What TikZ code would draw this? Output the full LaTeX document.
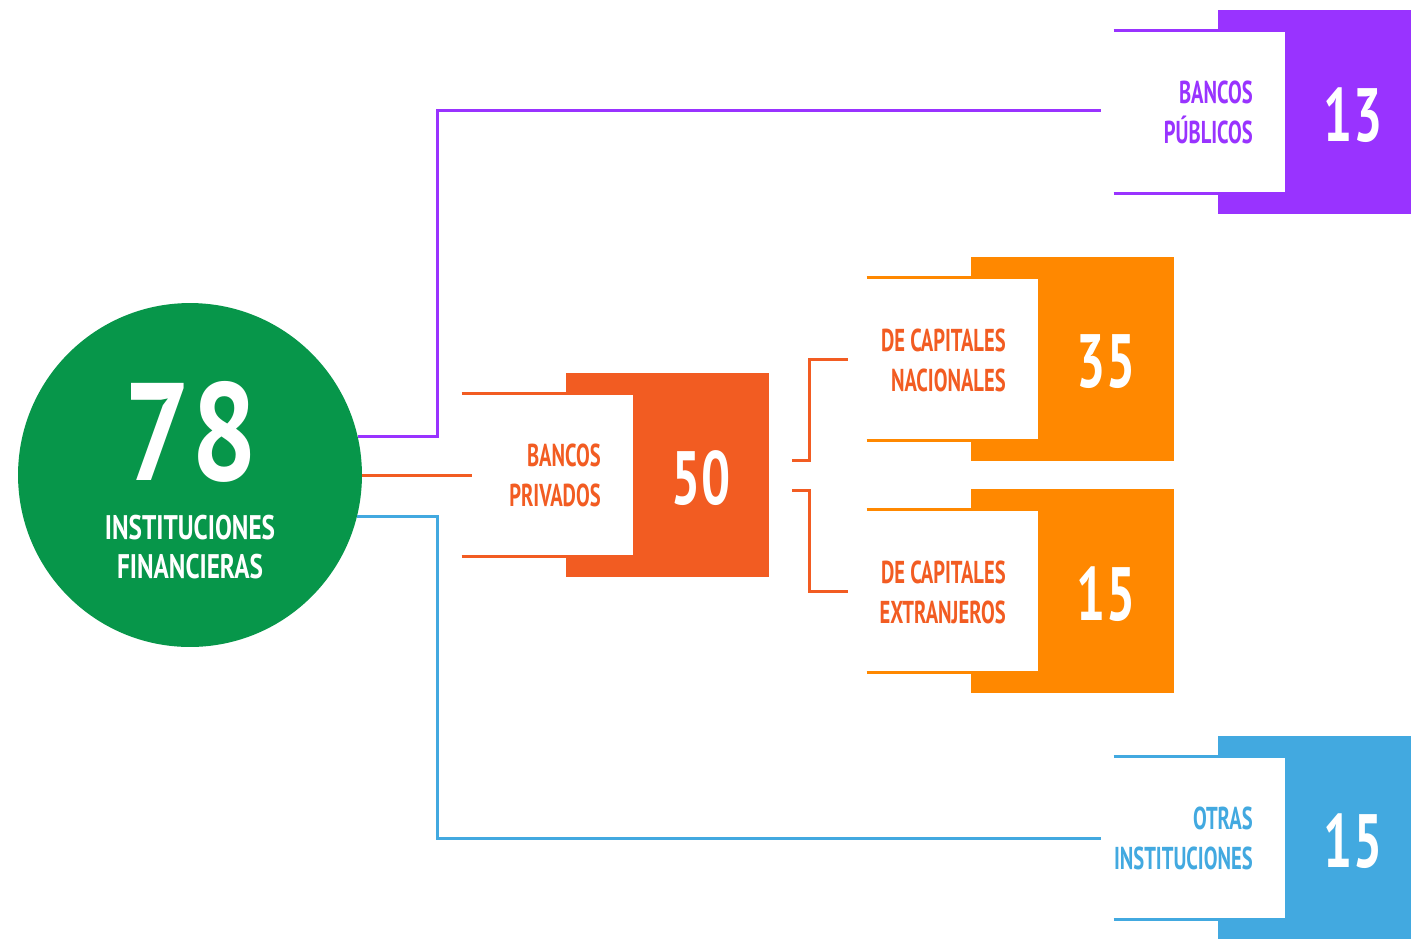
\documentclass[tikz,border=0pt]{standalone}
\usepackage{fontspec}
\setmainfont{PT Sans}
\newfontfamily\etroite[FakeStretch=0.65]{PT Sans}
\newfontfamily\cercle[FakeStretch=0.74]{PT Sans}
\newfontfamily\chiffres[FakeStretch=0.68]{PT Sans}
\newfontfamily\grand[FakeStretch=0.84]{PT Sans}
\usetikzlibrary{calc}
\definecolor{vertTotal}{HTML}{07964A}
\definecolor{violetPub}{HTML}{9933FF}
\definecolor{rougePriv}{HTML}{F25C22}
\definecolor{orangeCap}{HTML}{FF8800}
\definecolor{bleuAutres}{HTML}{42A9E0}
\begin{document}
\begin{tikzpicture}[x=0.02cm,y=-0.02cm]
	\tikzstyle{fond}=[minimum width=4.06cm,minimum height=4.08cm,inner sep=0pt]
	\tikzstyle{cadre}=[fill=white,minimum width=3.42cm,minimum height=3.26cm,inner sep=0pt]
	\tikzstyle{bord}=[line width=1.7pt]
	\tikzstyle{lien}=[line width=1.7pt]
	\tikzstyle{etiquette}=[anchor=east,align=right,inner sep=0pt,font=\etroite\bfseries\fontsize{18}{22.7}\selectfont]
	\tikzstyle{chiffre}=[text=white,inner sep=0pt,font=\chiffres\bfseries\fontsize{43}{43}\selectfont]
	\def\PubX{1319.5}\def\PubY{112}
	\def\PrivX{667.5}\def\PrivY{475}
	\def\NatX{1072.5}\def\NatY{359}
	\def\ExtX{1072.5}\def\ExtY{591}
	\def\AutX{1319.5}\def\AutY{838}
	\useasboundingbox (0,0) rectangle (1411,938);
	% cercle principal
	\node[circle,fill=vertTotal,minimum size=6.88cm,inner sep=0pt] (Total) at (190,475) {};
	\node[text=white,inner sep=0pt,font=\grand\bfseries\fontsize{79}{79}\selectfont] (TotalNb) at (191,432) {78};
	\node[text=white,align=center,inner sep=0pt,font=\cercle\bfseries\fontsize{19.4}{22.7}\selectfont] (TotalTxt) at (190,547) {INSTITUCIONES\\FINANCIERAS};
	% bancos publicos
	\node[fond,fill=violetPub] (FondPub) at (\PubX,\PubY) {};
	\node[cadre] (CadrePub) at ({\PubX-120},\PubY) {};
	\draw[bord,violetPub] (CadrePub.north west) -- (CadrePub.north east);
	\draw[bord,violetPub] (CadrePub.south west) -- (CadrePub.south east);
	\node[etiquette,text=violetPub] (TxtPub) at ({\PubX-66.5},\PubY) {BANCOS\\PÚBLICOS};
	\node[chiffre] (NbPub) at ({\PubX+33.5},{\PubY+3}) {13};
	% bancos privados
	\node[fond,fill=rougePriv] (FondPriv) at (\PrivX,\PrivY) {};
	\node[cadre] (CadrePriv) at ({\PrivX-120},\PrivY) {};
	\draw[bord,rougePriv] (CadrePriv.north west) -- (CadrePriv.north east);
	\draw[bord,rougePriv] (CadrePriv.south west) -- (CadrePriv.south east);
	\node[etiquette,text=rougePriv] (TxtPriv) at ({\PrivX-66.5},\PrivY) {BANCOS\\PRIVADOS};
	\node[chiffre] (NbPriv) at ({\PrivX+33.5},{\PrivY+3}) {50};
	% capitales nacionales
	\node[fond,fill=orangeCap] (FondNat) at (\NatX,\NatY) {};
	\node[cadre] (CadreNat) at ({\NatX-120},\NatY) {};
	\draw[bord,orangeCap] (CadreNat.north west) -- (CadreNat.north east);
	\draw[bord,orangeCap] (CadreNat.south west) -- (CadreNat.south east);
	\node[etiquette,text=rougePriv] (TxtNat) at ({\NatX-66.5},{\NatY+1}) {DE CAPITALES\\NACIONALES};
	\node[chiffre] (NbNat) at ({\NatX+33.5},{\NatY+3}) {35};
	% capitales extranjeros
	\node[fond,fill=orangeCap] (FondExt) at (\ExtX,\ExtY) {};
	\node[cadre] (CadreExt) at ({\ExtX-120},\ExtY) {};
	\draw[bord,orangeCap] (CadreExt.north west) -- (CadreExt.north east);
	\draw[bord,orangeCap] (CadreExt.south west) -- (CadreExt.south east);
	\node[etiquette,text=rougePriv] (TxtExt) at ({\ExtX-66.5},{\ExtY+1}) {DE CAPITALES\\EXTRANJEROS};
	\node[chiffre] (NbExt) at ({\ExtX+33.5},{\ExtY+3}) {15};
	% otras instituciones
	\node[fond,fill=bleuAutres] (FondAut) at (\AutX,\AutY) {};
	\node[cadre] (CadreAut) at ({\AutX-120},\AutY) {};
	\draw[bord,bleuAutres] (CadreAut.north west) -- (CadreAut.north east);
	\draw[bord,bleuAutres] (CadreAut.south west) -- (CadreAut.south east);
	\node[etiquette,text=bleuAutres] (TxtAut) at ({\AutX-66.5},\AutY) {OTRAS\\INSTITUCIONES};
	\node[chiffre] (NbAut) at ({\AutX+33.5},{\AutY+3}) {15};
	% liens
	\draw[lien,violetPub] (Total.13.5) -- ++(80,0) |- ($(CadrePub.west)+(-13,-2)$);
	\draw[lien,rougePriv] (Total.east) -- ($(CadrePriv.west)+(10,0)$);
	\draw[lien,bleuAutres] (Total.-14) -- ++(80,0) |- ($(CadreAut.west)+(-13,0)$);
	\draw[lien,rougePriv] ($(FondPriv.east)+(23,-15)$) -- ++(17,0) |- ($(CadreNat.west)+(-19,0)$);
	\draw[lien,rougePriv] ($(FondPriv.east)+(23,15)$) -- ++(17,0) |- ($(CadreExt.west)+(-19,0)$);
\end{tikzpicture}
\end{document}
